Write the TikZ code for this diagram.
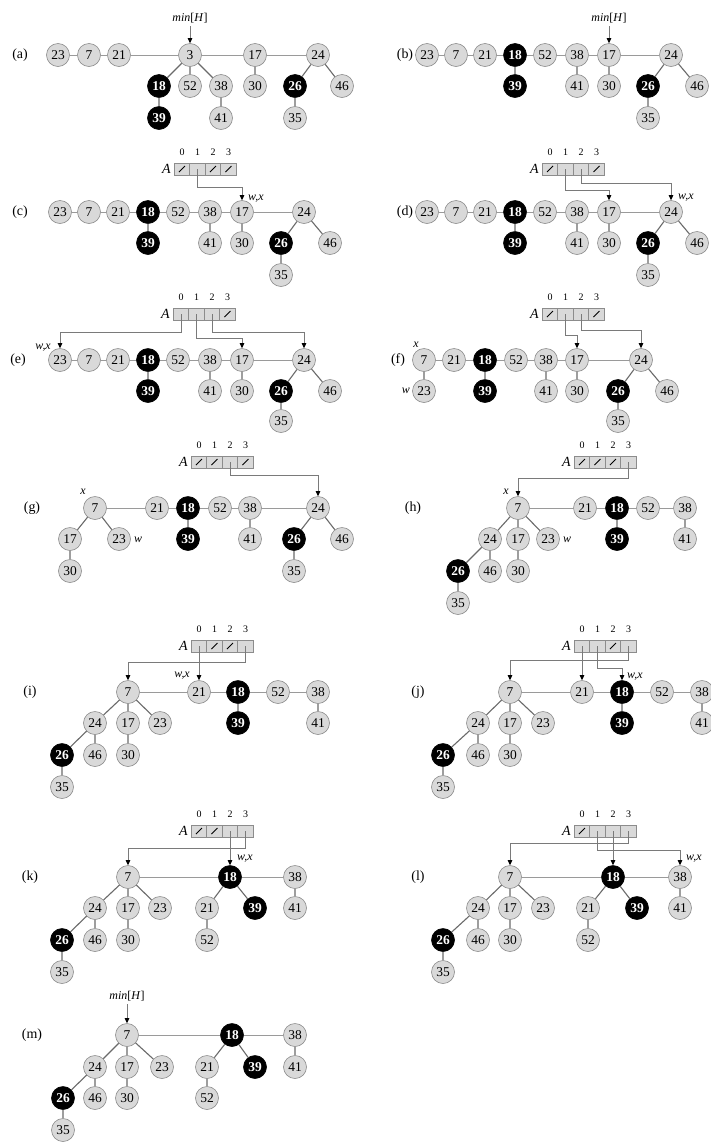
\documentclass[tikz,border=0pt]{standalone}
\usepackage{fontspec}
\setmainfont{Liberation Serif}
\usetikzlibrary{arrows.meta}
\definecolor{nfill}{HTML}{D9D9D9}
\definecolor{nline}{HTML}{8C8C8C}
\definecolor{eline}{HTML}{6A6A6A}
\definecolor{rline}{HTML}{9A9A9A}
\definecolor{pline}{HTML}{7A7A7A}
\newcommand\HN[4]{\node[hnode] (#1) at (#2,#3) {#4};}
\newcommand\BN[4]{\node[bnode] (#1) at (#2,#3) {#4};}
\newcommand\ARR[7]{%
  \node[#4] (#1c0) at (#2,#3) {};
  \node[#5] (#1c1) at (#2+15.5,#3) {};
  \node[#6] (#1c2) at (#2+31,#3) {};
  \node[#7] (#1c3) at (#2+46.5,#3) {};
  \node[albl] (#1A) at (#2-11,#3) {\textit{A}};
  \node[idx] (#1i0) at (#2,#3-17) {0};
  \node[idx] (#1i1) at (#2+15.5,#3-17) {1};
  \node[idx] (#1i2) at (#2+31,#3-17) {2};
  \node[idx] (#1i3) at (#2+46.5,#3-17) {3};
}
\begin{document}
\begin{tikzpicture}[x=1bp,y=-1bp,
  hnode/.style={circle, draw=nline, fill=nfill, line width=0.6bp, minimum size=23bp, inner sep=0pt, font=\fontsize{13.5}{13.5}\selectfont},
  bnode/.style={hnode, draw=black, fill=black, text=white, font=\fontsize{13.5}{13.5}\selectfont\bfseries},
  rootl/.style={draw=rline, line width=0.7bp},
  tedge/.style={draw=eline, line width=1.1bp},
  cellp/.style={rectangle, draw=nline, fill=nfill, line width=0.6bp, minimum width=15.5bp, minimum height=12bp, inner sep=0pt},
  celln/.style={cellp, path picture={\draw[black, line width=0.8bp] ([shift={(-3bp,-3bp)}]path picture bounding box.center) -- ([shift={(3bp,3bp)}]path picture bounding box.center);}},
  albl/.style={anchor=east, inner sep=0pt, font=\fontsize{14}{14}\selectfont},
  idx/.style={inner sep=0pt, font=\fontsize{10}{10}\selectfont},
  plabel/.style={inner sep=0pt, font=\fontsize{14}{14}\selectfont},
  ann/.style={inner sep=0pt, font=\fontsize{12}{12}\selectfont},
  ptr/.style={draw=pline, line width=0.7bp, -{Triangle[length=5bp,width=4.5bp,color=black]}}
]
\useasboundingbox (0,0) rectangle (711,1142);
\fill[white] (0,0) rectangle (711,1142);

% ---------------- (a)
\node[plabel] (la) at (20,55) {(a)};
\HN{a23}{58}{55}{23} \HN{a7}{89}{55}{7} \HN{a21}{119}{55}{21} \HN{a3}{190}{55}{3} \HN{a17}{255}{55}{17} \HN{a24}{318}{55}{24}
\BN{a18}{159}{86}{18} \HN{a52}{190}{86}{52} \HN{a38}{221}{86}{38} \HN{a30}{255}{86}{30} \BN{a26}{295}{86}{26} \HN{a46}{342}{86}{46}
\BN{a39}{159}{118}{39} \HN{a41}{221}{118}{41} \HN{a35}{295}{118}{35}
\draw[rootl] (a23)--(a7)--(a21)--(a3)--(a17)--(a24);
\draw[tedge] (a3)--(a18) (a3)--(a52) (a3)--(a38) (a18)--(a39) (a38)--(a41) (a17)--(a30) (a24)--(a26) (a24)--(a46) (a26)--(a35);
\node[ann] (ma) at (190,18) {\textit{min}[\textit{H}]};
\draw[ptr, shorten <=3bp] (ma) -- (a3);

% ---------------- (b)
\node[plabel] (lb) at (405,55) {(b)};
\HN{b23}{427}{55}{23} \HN{b7}{456}{55}{7} \HN{b21}{485}{55}{21} \BN{b18}{515}{55}{18} \HN{b52}{545}{55}{52} \HN{b38}{577}{55}{38} \HN{b17}{609}{55}{17} \HN{b24}{671}{55}{24}
\BN{b39}{515}{86}{39} \HN{b41}{577}{86}{41} \HN{b30}{609}{86}{30} \BN{b26}{648}{86}{26} \HN{b46}{697}{86}{46}
\HN{b35}{648}{118}{35}
\draw[rootl] (b23)--(b7)--(b21)--(b18)--(b52)--(b38)--(b17)--(b24);
\draw[tedge] (b18)--(b39) (b38)--(b41) (b17)--(b30) (b24)--(b26) (b24)--(b46) (b26)--(b35);
\node[ann] (mb) at (609,18) {\textit{min}[\textit{H}]};
\draw[ptr, shorten <=3bp] (mb) -- (b17);

% ---------------- (c)
\node[plabel] (lc) at (20,212) {(c)};
\HN{c23}{60}{212}{23} \HN{c7}{89}{212}{7} \HN{c21}{118}{212}{21} \BN{c18}{148}{212}{18} \HN{c52}{178}{212}{52} \HN{c38}{210}{212}{38} \HN{c17}{242}{212}{17} \HN{c24}{304}{212}{24}
\BN{c39}{148}{243}{39} \HN{c41}{210}{243}{41} \HN{c30}{242}{243}{30} \BN{c26}{281}{243}{26} \HN{c46}{330}{243}{46}
\HN{c35}{281}{275}{35}
\draw[rootl] (c23)--(c7)--(c21)--(c18)--(c52)--(c38)--(c17)--(c24);
\draw[tedge] (c18)--(c39) (c38)--(c41) (c17)--(c30) (c24)--(c26) (c24)--(c46) (c26)--(c35);
\ARR{cA}{182}{169}{celln}{cellp}{celln}{celln}
\draw[ptr] (cAc1.center) -- ++(0,18) -| (c17.north);
\node[ann, anchor=west] (cwx) at (248,199) {\textit{w,x}};

% ---------------- (d)
\node[plabel] (ld) at (405,212) {(d)};
\HN{d23}{427}{212}{23} \HN{d7}{456}{212}{7} \HN{d21}{485}{212}{21} \BN{d18}{515}{212}{18} \HN{d52}{545}{212}{52} \HN{d38}{577}{212}{38} \HN{d17}{609}{212}{17} \HN{d24}{671}{212}{24}
\BN{d39}{515}{243}{39} \HN{d41}{577}{243}{41} \HN{d30}{609}{243}{30} \BN{d26}{648}{243}{26} \HN{d46}{697}{243}{46}
\HN{d35}{648}{275}{35}
\draw[rootl] (d23)--(d7)--(d21)--(d18)--(d52)--(d38)--(d17)--(d24);
\draw[tedge] (d18)--(d39) (d38)--(d41) (d17)--(d30) (d24)--(d26) (d24)--(d46) (d26)--(d35);
\ARR{dA}{550}{169}{celln}{cellp}{cellp}{celln}
\draw[ptr] (dAc1.center) -- ++(0,21) -| (d17.north);
\draw[ptr] (dAc2.center) -- ++(0,14) -| (d24.north);
\node[ann, anchor=west] (dwx) at (678,198) {\textit{w,x}};

% ---------------- (e)
\node[plabel] (le) at (18,360) {(e)};
\HN{e23}{60}{360}{23} \HN{e7}{89}{360}{7} \HN{e21}{118}{360}{21} \BN{e18}{148}{360}{18} \HN{e52}{178}{360}{52} \HN{e38}{210}{360}{38} \HN{e17}{242}{360}{17} \HN{e24}{304}{360}{24}
\BN{e39}{148}{391}{39} \HN{e41}{210}{391}{41} \HN{e30}{242}{391}{30} \BN{e26}{281}{391}{26} \HN{e46}{330}{391}{46}
\HN{e35}{281}{421}{35}
\draw[rootl] (e23)--(e7)--(e21)--(e18)--(e52)--(e38)--(e17)--(e24);
\draw[tedge] (e18)--(e39) (e38)--(e41) (e17)--(e30) (e24)--(e26) (e24)--(e46) (e26)--(e35);
\ARR{eA}{181}{314}{cellp}{cellp}{cellp}{celln}
\draw[ptr] (eAc0.center) -- ++(0,18) -| (e23.north);
\draw[ptr] (eAc1.center) -- ++(0,24) -| (e17.north);
\draw[ptr] (eAc2.center) -- ++(0,18) -| (e24.north);
\node[ann, anchor=east] (ewx) at (51,348) {\textit{w,x}};

% ---------------- (f)
\node[plabel] (lf) at (398,360) {(f)};
\HN{f7}{424}{360}{7} \HN{f21}{454}{360}{21} \BN{f18}{485}{360}{18} \HN{f52}{516}{360}{52} \HN{f38}{546}{360}{38} \HN{f17}{577}{360}{17} \HN{f24}{641}{360}{24}
\HN{f23}{424}{391}{23} \BN{f39}{485}{391}{39} \HN{f41}{546}{391}{41} \HN{f30}{577}{391}{30} \BN{f26}{618}{391}{26} \HN{f46}{667}{391}{46}
\HN{f35}{618}{421}{35}
\draw[rootl] (f7)--(f21)--(f18)--(f52)--(f38)--(f17)--(f24);
\draw[tedge] (f7)--(f23) (f18)--(f39) (f38)--(f41) (f17)--(f30) (f24)--(f26) (f24)--(f46) (f26)--(f35);
\ARR{fA}{550}{314}{celln}{cellp}{cellp}{celln}
\draw[ptr] (fAc1.center) -- ++(0,21) -| (f17.north);
\draw[ptr] (fAc2.center) -- ++(0,16) -| (f24.north);
\node[ann] (fx) at (416,345) {\textit{x}};
\node[ann, anchor=east] (fw) at (410,391) {\textit{w}};

% ---------------- (g)
\node[plabel] (lg) at (32,508) {(g)};
\HN{g7}{95}{508}{7} \HN{g21}{157}{508}{21} \BN{g18}{188}{508}{18} \HN{g52}{220}{508}{52} \HN{g38}{250}{508}{38} \HN{g24}{318}{508}{24}
\HN{g17}{70}{539}{17} \HN{g23}{119}{539}{23} \BN{g39}{188}{539}{39} \HN{g41}{250}{539}{41} \BN{g26}{294}{539}{26} \HN{g46}{342}{539}{46}
\HN{g30}{70}{571}{30} \HN{g35}{294}{571}{35}
\draw[rootl] (g7)--(g21)--(g18)--(g52)--(g38)--(g24);
\draw[tedge] (g7)--(g17) (g7)--(g23) (g17)--(g30) (g18)--(g39) (g38)--(g41) (g24)--(g26) (g24)--(g46) (g26)--(g35);
\ARR{gA}{199}{462}{celln}{celln}{cellp}{celln}
\draw[ptr] (gAc2.center) -- ++(0,13) -| (g24.north);
\node[ann] (gx) at (83,492) {\textit{x}};
\node[ann, anchor=west] (gw) at (134,540) {\textit{w}};

% ---------------- (h)
\node[plabel] (lh) at (413,508) {(h)};
\HN{h7}{518}{508}{7} \HN{h21}{585}{508}{21} \BN{h18}{617}{508}{18} \HN{h52}{648}{508}{52} \HN{h38}{685}{508}{38}
\HN{h24}{490}{539}{24} \HN{h17}{518}{539}{17} \HN{h23}{548}{539}{23} \BN{h39}{617}{539}{39} \HN{h41}{685}{539}{41}
\BN{h26}{458}{571}{26} \HN{h46}{490}{571}{46} \HN{h30}{518}{571}{30}
\HN{h35}{458}{603}{35}
\draw[rootl] (h7)--(h21)--(h18)--(h52)--(h38);
\draw[tedge] (h7)--(h24) (h7)--(h17) (h7)--(h23) (h24)--(h26) (h24)--(h46) (h17)--(h30) (h26)--(h35) (h18)--(h39) (h38)--(h41);
\ARR{hA}{582}{462}{celln}{celln}{celln}{cellp}
\draw[ptr] (hAc3.center) -- ++(0,16) -| (h7.north);
\node[ann] (hx) at (506,492) {\textit{x}};
\node[ann, anchor=west] (hw) at (563,540) {\textit{w}};

% ---------------- (i)
\node[plabel] (li) at (30,692) {(i)};
\HN{i7}{128}{692}{7} \HN{i21}{199}{692}{21} \BN{i18}{238}{692}{18} \HN{i52}{278}{692}{52} \HN{i38}{318}{692}{38}
\HN{i24}{95}{723}{24} \HN{i17}{128}{723}{17} \HN{i23}{160}{723}{23} \BN{i39}{238}{723}{39} \HN{i41}{318}{723}{41}
\BN{i26}{62}{755}{26} \HN{i46}{95}{755}{46} \HN{i30}{128}{755}{30}
\HN{i35}{62}{787}{35}
\draw[rootl] (i7)--(i21)--(i18)--(i52)--(i38);
\draw[tedge] (i7)--(i24) (i7)--(i17) (i7)--(i23) (i24)--(i26) (i24)--(i46) (i17)--(i30) (i26)--(i35) (i18)--(i39) (i38)--(i41);
\ARR{iA}{199}{646}{cellp}{celln}{celln}{cellp}
\draw[ptr] (iAc3.center) -- ++(0,16) -| (i7.north);
\draw[ptr] (iAc0.center) -- (i21.north);
\node[ann, anchor=east] (iwx) at (190,676) {\textit{w,x}};

% ---------------- (j)
\node[plabel] (lj) at (418,692) {(j)};
\HN{j7}{510}{692}{7} \HN{j21}{582}{692}{21} \BN{j18}{622}{692}{18} \HN{j52}{662}{692}{52} \HN{j38}{702}{692}{38}
\HN{j24}{478}{723}{24} \HN{j17}{510}{723}{17} \HN{j23}{543}{723}{23} \BN{j39}{622}{723}{39} \HN{j41}{702}{723}{41}
\BN{j26}{443}{755}{26} \HN{j46}{478}{755}{46} \HN{j30}{510}{755}{30}
\HN{j35}{443}{787}{35}
\draw[rootl] (j7)--(j21)--(j18)--(j52)--(j38);
\draw[tedge] (j7)--(j24) (j7)--(j17) (j7)--(j23) (j24)--(j26) (j24)--(j46) (j17)--(j30) (j26)--(j35) (j18)--(j39) (j38)--(j41);
\ARR{jA}{582}{646}{cellp}{cellp}{celln}{cellp}
\draw[ptr] (jAc3.center) -- ++(0,14) -| (j7.north);
\draw[ptr] (jAc0.center) -- (j21.north);
\draw[ptr] (jAc1.center) -- ++(0,22) -| (j18.north);
\node[ann, anchor=west] (jwx) at (627,677) {\textit{w,x}};

% ---------------- (k)
\node[plabel] (lk) at (30,877) {(k)};
\HN{k7}{128}{877}{7} \BN{k18}{230}{877}{18} \HN{k38}{295}{877}{38}
\HN{k24}{95}{908}{24} \HN{k17}{128}{908}{17} \HN{k23}{160}{908}{23} \HN{k21}{207}{908}{21} \BN{k39}{255}{908}{39} \HN{k41}{295}{908}{41}
\BN{k26}{62}{940}{26} \HN{k46}{95}{940}{46} \HN{k30}{128}{940}{30} \HN{k52}{207}{940}{52}
\HN{k35}{62}{972}{35}
\draw[rootl] (k7)--(k18)--(k38);
\draw[tedge] (k7)--(k24) (k7)--(k17) (k7)--(k23) (k24)--(k26) (k24)--(k46) (k17)--(k30) (k26)--(k35) (k18)--(k21) (k18)--(k39) (k21)--(k52) (k38)--(k41);
\ARR{kA}{199}{831}{celln}{celln}{cellp}{cellp}
\draw[ptr] (kAc3.center) -- ++(0,17) -| (k7.north);
\draw[ptr] (kAc2.center) -- (k18.north);
\node[ann, anchor=west] (kwx) at (237,859) {\textit{w,x}};

% ---------------- (l)
\node[plabel] (ll) at (418,877) {(l)};
\HN{l7}{510}{877}{7} \BN{l18}{613}{877}{18} \HN{l38}{680}{877}{38}
\HN{l24}{478}{908}{24} \HN{l17}{510}{908}{17} \HN{l23}{543}{908}{23} \HN{l21}{588}{908}{21} \BN{l39}{637}{908}{39} \HN{l41}{680}{908}{41}
\BN{l26}{443}{940}{26} \HN{l46}{478}{940}{46} \HN{l30}{510}{940}{30} \HN{l52}{588}{940}{52}
\HN{l35}{443}{972}{35}
\draw[rootl] (l7)--(l18)--(l38);
\draw[tedge] (l7)--(l24) (l7)--(l17) (l7)--(l23) (l24)--(l26) (l24)--(l46) (l17)--(l30) (l26)--(l35) (l18)--(l21) (l18)--(l39) (l21)--(l52) (l38)--(l41);
\ARR{lA}{582}{831}{celln}{cellp}{cellp}{cellp}
\draw[ptr] (lAc3.center) -- ++(0,12) -| (l7.north);
\draw[ptr] (lAc2.center) -- (l18.north);
\draw[ptr] (lAc1.center) -- ++(0,19) -| (l38.north);
\node[ann, anchor=west] (lwx) at (686,859) {\textit{w,x}};

% ---------------- (m)
\node[plabel] (lm) at (32,1035) {(m)};
\HN{m7}{127}{1035}{7} \BN{m18}{232}{1035}{18} \HN{m38}{295}{1035}{38}
\HN{m24}{95}{1067}{24} \HN{m17}{127}{1067}{17} \HN{m23}{162}{1067}{23} \HN{m21}{207}{1067}{21} \BN{m39}{255}{1067}{39} \HN{m41}{295}{1067}{41}
\BN{m26}{63}{1098}{26} \HN{m46}{95}{1098}{46} \HN{m30}{127}{1098}{30} \HN{m52}{207}{1098}{52}
\HN{m35}{63}{1130}{35}
\draw[rootl] (m7)--(m18)--(m38);
\draw[tedge] (m7)--(m24) (m7)--(m17) (m7)--(m23) (m24)--(m26) (m24)--(m46) (m17)--(m30) (m26)--(m35) (m18)--(m21) (m18)--(m39) (m21)--(m52) (m38)--(m41);
\node[ann] (mm) at (127,996) {\textit{min}[\textit{H}]};
\draw[ptr, shorten <=3bp] (mm) -- (m7);
\end{tikzpicture}
\end{document}
